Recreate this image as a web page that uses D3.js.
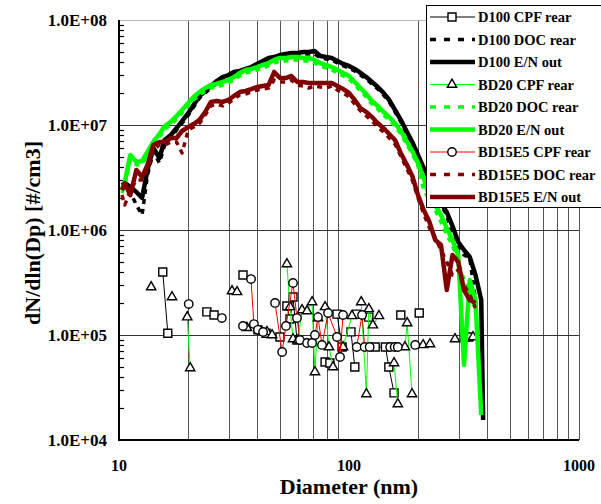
<!DOCTYPE html>
<html>
<head>
<meta charset="utf-8">
<script src="https://cdnjs.cloudflare.com/ajax/libs/d3/7.8.5/d3.min.js"></script>
<style>
body { margin: 0; background: #fff; }
text { font-family: "Liberation Serif", "Times New Roman", serif; font-weight: bold; fill: #000; }
</style>
</head>
<body>
<script>
// SMPS channel diameters (nm), shared by the DOC rear and E/N out scans
var dp = [10.3, 10.6, 11.2, 11.9, 12.6, 13.3, 14.1, 15.0, 15.8, 16.8,
	17.8, 18.8, 20.0, 21.1, 22.4, 23.7, 25.1, 26.6, 28.2, 29.9,
	31.6, 33.5, 35.5, 37.6, 39.8, 42.2, 44.7, 47.3, 50.1, 53.1,
	56.2, 59.6, 63.1, 66.8, 70.8, 75.0, 79.4, 84.1, 89.1, 94.4,
	100, 105.9, 112.2, 118.9, 125.9, 133.4, 141.3, 149.6, 158.5, 167.9,
	177.8, 188.4, 199.5, 211.3, 223.9, 237.1, 251.2, 266.1, 281.8, 298.5,
	316.2, 335.0, 354.8, 375.8, 383.0];

var d100Doc = [2.40e6, 2.62e6, 2.30e6, 1.73e6, 1.39e6, 3.34e6, 5.53e6, 4.35e6, 6.45e6, 7.52e6,
	8.96e6, 1.04e7, 1.24e7, 1.48e7, 1.81e7, 2.02e7, 2.25e7, 2.51e7, 2.74e7, 2.86e7,
	3.06e7, 3.13e7, 3.27e7, 3.42e7, 3.65e7, 3.89e7, 4.16e7, 4.25e7, 4.44e7, 4.54e7,
	4.64e7, 4.64e7, 4.75e7, 4.75e7, 4.75e7, 4.35e7, 4.25e7, 4.16e7, 3.89e7, 3.65e7,
	3.49e7, 3.27e7, 2.99e7, 2.74e7, 2.46e7, 2.20e7, 1.93e7, 1.66e7, 1.33e7, 1.07e7,
	8.39e6, 6.59e6, 4.96e6, 3.73e6, 2.99e6, 2.25e6, 1.73e6, 1.39e6, 8.39e5, 7.20e5,
	5.78e5, 5.41e5, 2.15e5, null, null];
var d100En = [2.68e6, 2.80e6, 2.57e6, 2.30e6, 2.02e6, 3.73e6, 6.04e6, 4.85e6, 7.20e6, 8.03e6,
	9.36e6, 1.09e7, 1.30e7, 1.55e7, 1.89e7, 2.11e7, 2.35e7, 2.62e7, 2.86e7, 2.99e7,
	3.20e7, 3.27e7, 3.42e7, 3.56e7, 3.81e7, 4.07e7, 4.35e7, 4.44e7, 4.64e7, 4.75e7,
	4.85e7, 4.85e7, 4.95e7, 4.95e7, 5.07e7, 4.54e7, 4.44e7, 4.35e7, 4.07e7, 3.81e7,
	3.65e7, 3.42e7, 3.13e7, 2.86e7, 2.57e7, 2.30e7, 2.02e7, 1.73e7, 1.39e7, 1.12e7,
	8.77e6, 6.89e6, 5.18e6, 3.89e6, 3.20e6, 2.40e6, 1.81e6, 1.48e6, 1.09e6, 7.69e5,
	6.45e5, 5.53e5, 3.73e5, 2.15e5, 1.55e4];

var bd20Doc = [2.25e6, 2.68e6, 4.64e6, 4.16e6, 4.25e6, 5.18e6, 6.45e6, 7.69e6, 9.16e6, 9.98e6,
	1.14e7, 1.30e7, 1.52e7, 1.73e7, 1.93e7, 2.11e7, 2.25e7, 2.30e7, 2.40e7, 2.51e7,
	2.68e7, 2.93e7, 3.13e7, 3.20e7, 3.34e7, 3.49e7, 3.65e7, 3.89e7, 4.07e7, 4.07e7,
	4.16e7, 4.16e7, 4.07e7, 4.07e7, 3.89e7, 3.65e7, 3.49e7, 3.34e7, 3.13e7, 2.93e7,
	2.74e7, 2.40e7, 2.11e7, 1.85e7, 1.58e7, 1.42e7, 1.24e7, 1.12e7, 9.78e6, 8.21e6,
	6.59e6, 5.30e6, 4.07e6, 2.40e6, 1.93e6, 1.55e6, 1.19e6, 8.96e5, 7.20e5, 4.96e5,
	3.34e5, 2.68e5, 1.73e5, null, null];
var bd20En = [2.40e6, 2.87e6, 5.18e6, 4.44e6, 4.54e6, 5.53e6, 6.89e6, 8.21e6, 9.78e6, 1.07e7,
	1.22e7, 1.39e7, 1.62e7, 1.85e7, 2.06e7, 2.25e7, 2.40e7, 2.46e7, 2.57e7, 2.68e7,
	2.86e7, 3.13e7, 3.34e7, 3.42e7, 3.56e7, 3.73e7, 3.89e7, 4.16e7, 4.35e7, 4.35e7,
	4.44e7, 4.44e7, 4.35e7, 4.35e7, 4.16e7, 3.89e7, 3.73e7, 3.56e7, 3.34e7, 3.13e7,
	2.93e7, 2.57e7, 2.25e7, 1.97e7, 1.69e7, 1.52e7, 1.33e7, 1.19e7, 1.04e7, 8.77e6,
	7.04e6, 5.65e6, 4.35e6, 3.13e6, 2.06e6, 1.73e6, 1.39e6, 1.04e6, 8.03e5, 5.78e5,
	5.18e4, 3.34e5, 2.15e5, 1.73e4, null];

var bd15Doc = [2.15e6, 1.73e6, 2.40e6, 2.99e6, 2.99e6, 3.73e6, 5.78e6, 6.45e6, 6.45e6, 6.89e6,
	6.89e6, 5.41e6, 8.96e6, 9.57e6, 1.04e7, 1.24e7, 1.52e7, 1.58e7, 1.52e7, 1.62e7,
	1.77e7, 1.93e7, 1.97e7, 2.06e7, 2.15e7, 2.20e7, 2.25e7, 2.68e7, 2.57e7, 2.57e7,
	2.68e7, 2.40e7, 2.35e7, 2.25e7, 2.35e7, 2.30e7, 2.25e7, 2.35e7, 2.15e7, 2.02e7,
	1.85e7, 1.58e7, 1.36e7, 1.22e7, 1.09e7, 9.57e6, 8.58e6, 7.52e6, 6.59e6, 5.07e6,
	3.89e6, 2.99e6, 2.02e6, 1.42e6, 1.04e6, 8.39e5, 6.45e5, 4.96e5, 3.73e5, 4.16e5,
	2.99e5, 2.40e5, 1.81e5, null, null];
var bd15En = [2.40e6, 2.80e6, 2.15e6, 3.73e6, 3.20e6, 4.16e6, 6.45e6, 6.89e6, 6.89e6, 7.52e6,
	7.52e6, 8.77e6, 9.57e6, 1.02e7, 1.12e7, 1.33e7, 1.66e7, 1.69e7, 1.66e7, 1.73e7,
	1.89e7, 2.06e7, 2.11e7, 2.20e7, 2.30e7, 2.35e7, 2.40e7, 3.20e7, 2.80e7, 2.80e7,
	2.93e7, 2.57e7, 2.57e7, 2.51e7, 2.51e7, 2.51e7, 2.51e7, 2.51e7, 2.35e7, 2.20e7,
	2.02e7, 1.73e7, 1.45e7, 1.33e7, 1.19e7, 1.04e7, 9.36e6, 8.21e6, 7.20e6, 5.41e6,
	4.25e6, 3.27e6, 2.15e6, 1.55e6, 1.19e6, 8.03e5, 7.20e5, 2.68e5, 5.78e5, 4.96e5,
	2.68e5, 2.15e5, 2.02e5, null, null];

// CPF rear points, null = gap in the scan (no line drawn across it)
var d100CpfDp = [15.5, 16.3, null, 24.1, 25.9, null, 34.6, null, 40.2, 43.6, null, 50.1, null,
	53.7, 55.4, 57.1, 59.4, null, 78.7, 82.6, null, 88.7, 93.3, null, 102, 106, null, 108, null,
	122, null, 130, 144, 149, 157, null, 168, null, 202, null, 319, 332];
var d100CpfN = [3.98e5, 1.04e5, null, 1.66e5, 1.55e5, null, 3.73e5, null, 1.12e5, 1.04e5, null, 9.57e4, null,
	1.89e5, 1.42e5, 2.30e5, 8.96e4, null, 5.53e4, 5.41e4, null, 1.58e5, 7.69e4, null, 1.07e5, 4.95e4, null, 1.58e5, null,
	1.48e5, null, 7.69e4, 7.69e4, 4.95e4, 2.81e4, null, 1.55e5, null, 1.62e5, null, 9.57e4, 9.57e4];

var bd20CpfDp = [13.8, null, 17.0, null, 19.8, 20.4, null, 31.0, 32.6, null, 36.0, null, 44.0, 46.3, null,
	53.7, 55.4, 57.1, 60.0, 62.5, null, 65.7, 69.1, 71.1, 73.3, null, 78.7, 81.9, 85.2, null, 94.2, 103, null,
	113, 119, 122, 127, 135, null, 157, 163, null, 175, 179, 188, null, 210, 225, null, 289, null, 346];
var bd20CpfN = [2.86e5, null, 2.30e5, null, 1.48e5, 4.85e4, null, 2.62e5, 2.57e5, null, 1.17e5, null, 1.07e5, 1.00e5, null,
	4.74e5, 1.85e5, 9.16e4, 8.96e4, 1.73e5, null, 1.69e5, 2.06e5, 4.44e4, 1.45e5, null, 1.85e5, 7.69e4, 4.95e4, null, 7.69e4, 1.52e5, null,
	2.06e5, 2.74e4, 1.77e5, 1.24e5, 1.52e5, null, 5.41e4, 2.20e4, null, 7.69e4, 1.30e5, 2.74e4, null, 8.04e4, 8.20e4, null, 9.16e4, null, 9.57e4];

var bd15CpfDp = [20.1, null, 28.0, null, 34.6, null, 37.5, 38.6, 40.2, 42.3, null, 47.7, 51.2, 53.2, 57.1, 59.4, 61.2, null,
	65.7, 69.1, 71.1, 73.3, 76.3, 81.1, 88.7, 91.4, 94.2, null, 108, 114, 117, 123, null, 151, 158, 163, null, 194];
var bd15CpfN = [1.97e5, null, 1.45e5, null, 1.22e5, null, 3.41e5, 1.27e5, 1.12e5, 1.07e5, null, 2.02e5, 6.89e4, 1.22e5, 3.13e5, 1.45e5, 8.96e4, null,
	8.39e4, 8.39e4, 1.00e5, 1.48e5, 8.04e4, 1.62e5, 9.57e4, 6.17e4, 1.55e5, null, 7.69e4, 1.55e5, 7.69e4, 7.69e4, null, 7.69e4, 7.69e4, 7.69e4, null, 8.04e4];

var xTickLabels = [10, 100, 1000];
var yTickLabels = ["1.0E+04", "1.0E+05", "1.0E+06", "1.0E+07", "1.0E+08"];

var x = d3.scaleLog().domain([10, 1000]).range([119, 579]);
var y = d3.scaleLog().domain([1e4, 1e8]).range([440, 20]);

var series = [
	{name: "D100 CPF rear", kind: "cpf", color: "#000000", mark: d3.symbolSquare, size: 64, dp: d100CpfDp, n: d100CpfN},
	{name: "D100 DOC rear", kind: "doc", color: "#000000", dp: dp, n: d100Doc},
	{name: "D100 E/N out", kind: "en", color: "#000000", dp: dp, n: d100En},
	{name: "BD20 CPF rear", kind: "cpf", color: "#00ff00", mark: d3.symbolTriangle, size: 38, dp: bd20CpfDp, n: bd20CpfN},
	{name: "BD20 DOC rear", kind: "doc", color: "#00ff00", dp: dp, n: bd20Doc},
	{name: "BD20 E/N out", kind: "en", color: "#00ff00", dp: dp, n: bd20En},
	{name: "BD15E5 CPF rear", kind: "cpf", color: "#ff0000", mark: d3.symbolCircle, size: 56, dp: bd15CpfDp, n: bd15CpfN},
	{name: "BD15E5 DOC rear", kind: "doc", color: "#800000", dp: dp, n: bd15Doc},
	{name: "BD15E5 E/N out", kind: "en", color: "#800000", dp: dp, n: bd15En}
];

var svg = d3.select("body").append("svg")
	.attr("width", 601)
	.attr("height", 504);

// grid
var xGrid = [20, 30, 40, 50, 60, 70, 80, 90, 200, 300, 400, 500, 600, 700, 800, 900, 1000];
svg.append("g").selectAll("line").data(xGrid).join("line")
	.attr("x1", function(d) { return Math.round(x(d)) + 0.5; })
	.attr("x2", function(d) { return Math.round(x(d)) + 0.5; })
	.attr("y1", y(1e8)).attr("y2", y(1e4))
	.attr("stroke", "#555").attr("stroke-width", 1);
svg.append("g").selectAll("line").data([1e5, 1e6, 1e7, 1e8]).join("line")
	.attr("x1", x(10)).attr("x2", x(1000))
	.attr("y1", function(d) { return Math.round(y(d)) + 0.5; })
	.attr("y2", function(d) { return Math.round(y(d)) + 0.5; })
	.attr("stroke", function(d) { return d == 1e8 ? "#bbb" : "#333"; })
	.attr("stroke-width", 1);

// minor ticks on the y axis, pointing inside
var minor = [];
[1e4, 1e5, 1e6, 1e7].forEach(function(dec) {
	for (var m = 2; m <= 9; m++) minor.push(dec * m);
});
svg.append("g").selectAll("line").data(minor).join("line")
	.attr("x1", x(10)).attr("x2", x(10) + 5)
	.attr("y1", function(d) { return Math.round(y(d)) + 0.5; })
	.attr("y2", function(d) { return Math.round(y(d)) + 0.5; })
	.attr("stroke", "#000").attr("stroke-width", 1.2);

svg.append("line")
	.attr("x1", x(10)).attr("x2", x(10))
	.attr("y1", y(1e8)).attr("y2", y(1e4) + 1)
	.attr("stroke", "#000").attr("stroke-width", 2);
svg.append("line")
	.attr("x1", x(10) - 1).attr("x2", x(1000))
	.attr("y1", y(1e4)).attr("y2", y(1e4))
	.attr("stroke", "#000").attr("stroke-width", 2);

// tick labels
svg.append("g").selectAll("text").data(xTickLabels).join("text")
	.attr("x", function(d) { return x(d); })
	.attr("y", 471)
	.attr("text-anchor", "middle")
	.style("font-size", "16px")
	.text(function(d) { return d; });
svg.append("g").selectAll("text").data(yTickLabels).join("text")
	.attr("x", 107)
	.attr("y", function(d) { return y(+d) + 6; })
	.attr("text-anchor", "end")
	.style("font-size", "17px")
	.text(function(d) { return d; });

svg.append("text")
	.attr("x", 349).attr("y", 494)
	.attr("text-anchor", "middle")
	.style("font-size", "22px")
	.text("Diameter (nm)");
svg.append("text")
	.attr("transform", "translate(40,233) rotate(-90)")
	.attr("text-anchor", "middle")
	.style("font-size", "22px")
	.text("dN/dln(Dp) [#/cm3]");

function points(s) {
	return s.dp.map(function(d, i) {
		return (d == null || s.n[i] == null) ? null : [d, s.n[i]];
	});
}
var line = d3.line()
	.defined(function(p) { return p != null; })
	.x(function(p) { return x(p[0]); })
	.y(function(p) { return y(p[1]); });

var view = svg.append("g").attr("class", "view");
series.forEach(function(s) {
	var pts = points(s);
	var path = view.append("path")
		.attr("d", line(pts))
		.attr("fill", "none")
		.attr("stroke", s.color)
		.attr("stroke-linejoin", "round");
	if (s.kind == "en") path.attr("stroke-width", 4.5);
	if (s.kind == "doc") path.attr("stroke-width", 3.5).attr("stroke-dasharray", "5,5");
	if (s.kind == "cpf") {
		path.attr("stroke-width", 1);
		view.append("g").selectAll("path").data(pts.filter(function(p) { return p != null; })).join("path")
			.attr("transform", function(p) { return "translate(" + x(p[0]) + "," + y(p[1]) + ")"; })
			.attr("d", d3.symbol().type(s.mark).size(s.size))
			.attr("fill", "#fff")
			.attr("stroke", "#000")
			.attr("stroke-width", 1.4);
	}
});

// legend
var lg = svg.append("g").attr("transform", "translate(426,5)");
lg.append("rect")
	.attr("x", 0.5).attr("y", 0.5)
	.attr("width", 200).attr("height", 202)
	.attr("fill", "#fff").attr("stroke", "#000").attr("stroke-width", 1);
var row = lg.selectAll("g.row").data(series).join("g")
	.attr("class", "row")
	.attr("transform", function(d, i) { return "translate(0," + (12 + i * 22.5) + ")"; });
row.append("line")
	.attr("x1", 4).attr("x2", 49)
	.attr("stroke", function(d) { return d.color; })
	.attr("stroke-width", function(d) { return d.kind == "en" ? 4.5 : (d.kind == "doc" ? 3.5 : 1); })
	.attr("stroke-dasharray", function(d) { return d.kind == "doc" ? "6,8" : null; });
row.filter(function(d) { return d.kind == "cpf"; }).append("path")
	.attr("transform", "translate(26,0)")
	.attr("d", function(d) { return d3.symbol().type(d.mark).size(d.size)(); })
	.attr("fill", "#fff").attr("stroke", "#000").attr("stroke-width", 1.4);
row.append("text")
	.attr("x", 52).attr("y", 5)
	.style("font-size", "14.5px")
	.text(function(d) { return d.name; });
</script>
</body>
</html>
